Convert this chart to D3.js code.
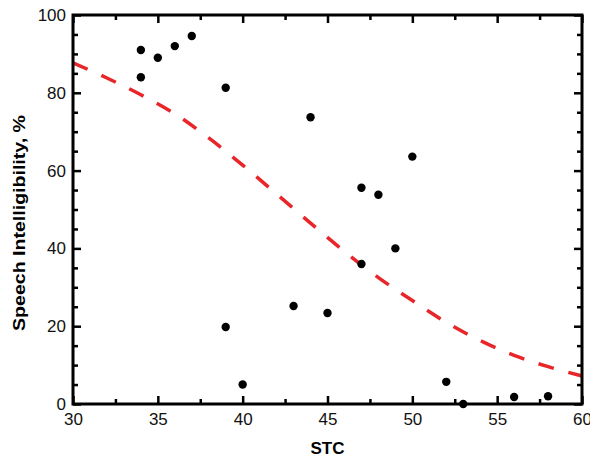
<!DOCTYPE html>
<html>
<head>
<meta charset="utf-8">
<script src="https://cdn.jsdelivr.net/npm/d3@7"></script>
<style>
  html, body { margin: 0; padding: 0; background: #fff; overflow: hidden; }
  svg { display: block; }
  text { font-family: "Liberation Sans", Arial, sans-serif; }
</style>
</head>
<body>
<svg id="chart"></svg>
<script>
// measured points: STC vs speech intelligibility
const stcValues = [34, 34, 35, 36, 37, 39, 39, 40, 43, 44, 45, 47, 47, 48, 49, 50, 52, 53, 56, 58];
const intelligibility = [91, 84, 89, 92, 94.6, 81.3, 19.8, 5, 25.2, 73.7, 23.4, 55.6, 36, 53.8, 40, 63.6, 5.7, 0, 1.8, 2];

// fitted curve
const fitStc = [30, 32, 34, 36, 38, 40, 42, 44, 46, 48, 50, 52, 54, 56, 58, 60];
const fitValues = [87.7, 83.8, 79.5, 74.6, 68.4, 61.4, 54, 46.5, 39.2, 32.5, 26.6, 21, 16.3, 12.5, 9.6, 7.2];

const xMajor = [30, 35, 40, 45, 50, 55, 60];
const xMinor = [32.5, 37.5, 42.5, 47.5, 52.5, 57.5];
const yMajor = [0, 20, 40, 60, 80, 100];
const yMinor = [5, 10, 15, 25, 30, 35, 45, 50, 55, 65, 70, 75, 85, 90, 95];

const width = 590, height = 459;
const margin = { top: 15, right: 8, bottom: 55, left: 73 };
const innerWidth = width - margin.left - margin.right;
const innerHeight = height - margin.top - margin.bottom;

const svg = d3.select('#chart')
  .attr('width', width)
  .attr('height', height);

const g = svg.append('g')
  .attr('transform', `translate(${margin.left},${margin.top})`);

const x = d3.scaleLinear().domain([30, 60]).range([0, innerWidth]);
const y = d3.scaleLinear().domain([0, 100]).range([innerHeight, 0]);

const styleAxis = (sel, showText) => {
  sel.select('.domain').remove();
  sel.selectAll('.tick line').attr('stroke', '#000').attr('stroke-width', 2.5);
  sel.selectAll('.tick text')
    .attr('font-size', 17)
    .attr('fill', '#111')
    .attr('font-family', '"Liberation Sans", Arial, sans-serif');
  if (!showText) sel.selectAll('.tick text').remove();
};

// bottom
g.append('g').attr('transform', `translate(0,${innerHeight})`)
  .call(d3.axisBottom(x).tickValues(xMajor).tickSize(-8).tickPadding(9).tickFormat(d3.format('d')))
  .call(s => styleAxis(s, true));
g.append('g').attr('transform', `translate(0,${innerHeight})`)
  .call(d3.axisBottom(x).tickValues(xMinor).tickSize(-5))
  .call(s => styleAxis(s, false));
// top
g.append('g')
  .call(d3.axisTop(x).tickValues(xMajor).tickSize(-8))
  .call(s => styleAxis(s, false));
g.append('g')
  .call(d3.axisTop(x).tickValues(xMinor).tickSize(-5))
  .call(s => styleAxis(s, false));
// left
g.append('g')
  .call(d3.axisLeft(y).tickValues(yMajor).tickSize(-8).tickPadding(7).tickFormat(d3.format('d')))
  .call(s => styleAxis(s, true));
g.append('g')
  .call(d3.axisLeft(y).tickValues(yMinor).tickSize(-5))
  .call(s => styleAxis(s, false));
// right
g.append('g').attr('transform', `translate(${innerWidth},0)`)
  .call(d3.axisRight(y).tickValues(yMajor).tickSize(-8))
  .call(s => styleAxis(s, false));
g.append('g').attr('transform', `translate(${innerWidth},0)`)
  .call(d3.axisRight(y).tickValues(yMinor).tickSize(-5))
  .call(s => styleAxis(s, false));

// fit curve
const fitData = fitStc.map((d, i) => ({ stc: d, v: fitValues[i] }));
const lineGen = d3.line()
  .x(d => x(d.stc))
  .y(d => y(d.v))
  .curve(d3.curveCatmullRom);

g.append('path')
  .datum(fitData)
  .attr('d', lineGen)
  .attr('fill', 'none')
  .attr('stroke', '#e8262a')
  .attr('stroke-width', 3.5)
  .attr('stroke-dasharray', '16,15');

// points
const points = stcValues.map((d, i) => ({ stc: d, v: intelligibility[i] }));
g.selectAll('.dot').data(points)
  .enter().append('circle')
  .attr('class', 'dot')
  .attr('cx', d => x(d.stc))
  .attr('cy', d => y(d.v))
  .attr('r', 4.2)
  .attr('fill', '#000');

// frame
g.append('rect')
  .attr('width', innerWidth)
  .attr('height', innerHeight)
  .attr('fill', 'none')
  .attr('stroke', '#000')
  .attr('stroke-width', 3);

// axis labels
svg.append('text')
  .attr('x', margin.left + innerWidth / 2)
  .attr('y', 454)
  .attr('text-anchor', 'middle')
  .attr('font-size', 17)
  .attr('font-weight', 'bold')
  .attr('fill', '#000')
  .text('STC');

svg.append('text')
  .attr('transform', 'translate(25,223) rotate(-90)')
  .attr('text-anchor', 'middle')
  .attr('font-size', 16)
  .attr('font-weight', 'bold')
  .attr('fill', '#000')
  .attr('textLength', 216)
  .attr('lengthAdjust', 'spacingAndGlyphs')
  .text('Speech Intelligibility, %');
</script>
</body>
</html>
